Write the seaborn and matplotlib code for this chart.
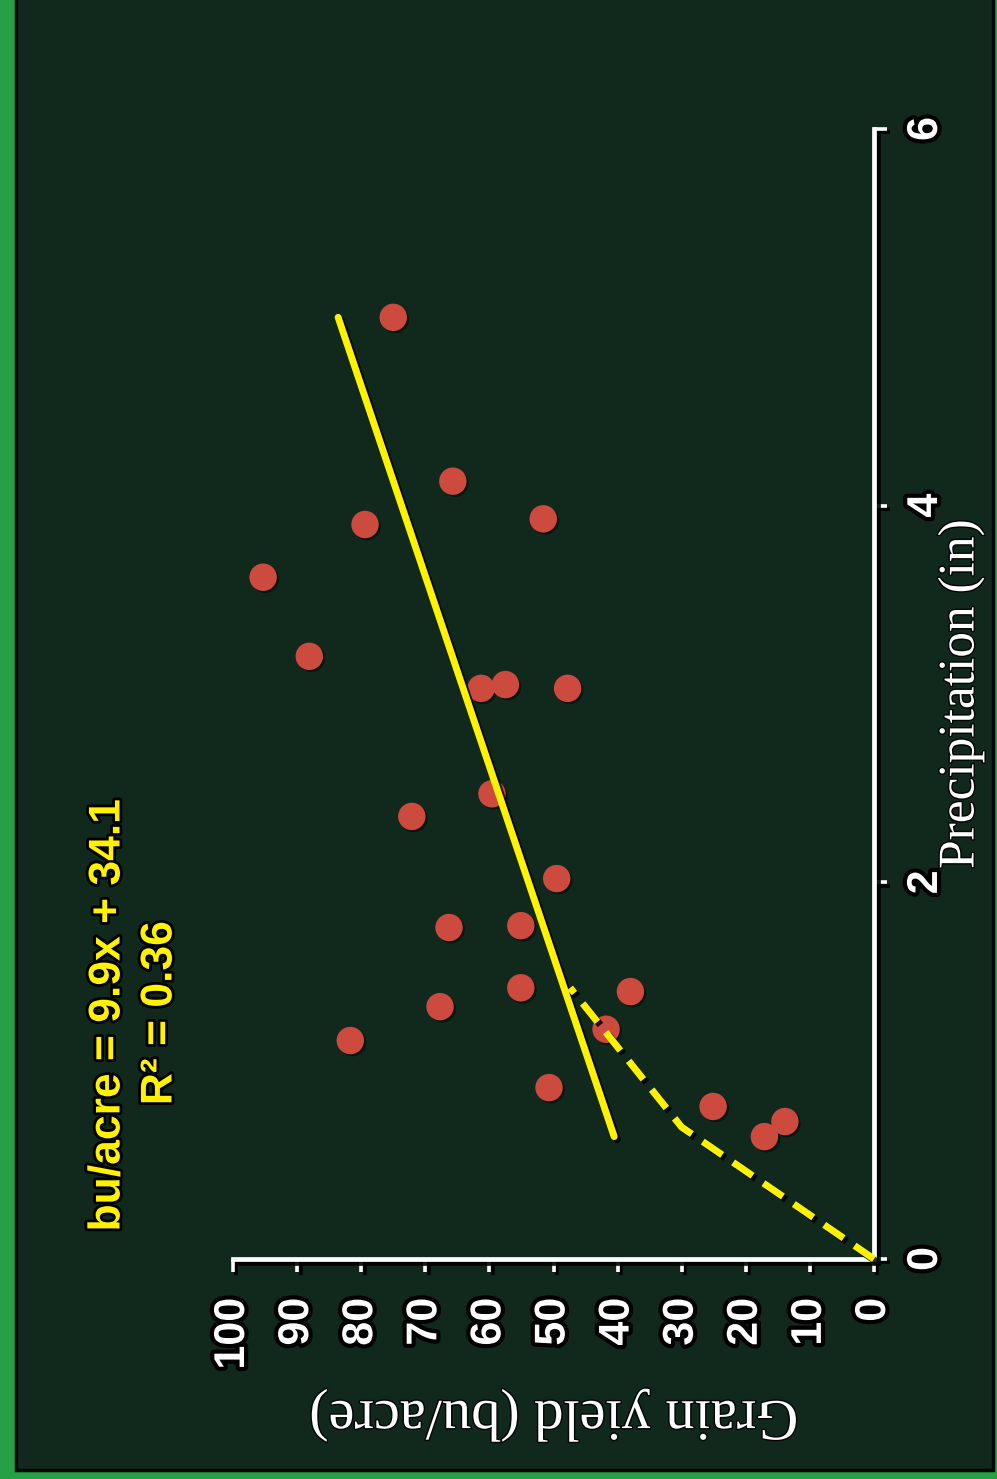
import matplotlib
matplotlib.use("Agg")
import matplotlib.pyplot as plt
import seaborn as sns
import pandas as pd
from matplotlib import patheffects as pe
from matplotlib.patches import Rectangle

# Observed site-years: growing-season precipitation (in) and grain yield (bu/acre)
precip = [5.00, 4.13, 3.90, 3.93, 3.62, 3.20, 3.03, 3.05, 3.03, 2.35, 2.47, 2.02,
          1.76, 1.77, 1.34, 1.44, 1.42, 1.16, 1.22, 0.91, 0.81, 0.73, 0.65]
grain_yield = [75.0, 65.7, 79.4, 51.6, 95.3, 88.1, 61.3, 57.5, 47.8, 72.1, 59.6, 49.5,
               66.3, 55.1, 67.7, 55.1, 38.0, 81.7, 41.8, 50.7, 25.1, 13.9, 17.1]

# Linear fit: bu/acre = 9.9x + 34.1
slope, intercept = 9.9, 34.1
fit_range = [0.65, 5.0]

# Upper boundary (dashed)
bound_precip = [0.0, 0.70, 1.44]
bound_yield = [0.0, 30.0, 47.4]

yield_ticks = list(range(0, 101, 10))
precip_ticks = [0, 2, 4, 6]

W, H = 997, 1479
sns.set_theme(style="white")
plt.rcParams["font.family"] = ["Liberation Sans", "DejaVu Sans"]

fig = plt.figure(figsize=(W / 100, H / 100), dpi=100)
fig.patch.set_facecolor("#25a045")
panel = Rectangle((16 / W, 9 / H), (993 - 16) / W, 1.0,
                  transform=fig.transFigure, facecolor="#11281d",
                  edgecolor="#07070d", linewidth=2.5, zorder=-10)
fig.patches.append(panel)

ax = fig.add_axes([233 / W, 1 - 1259 / H, (874 - 233) / W, (1259 - 129) / H])
ax.set_facecolor("none")
ax.set_zorder(5)

pts = pd.DataFrame({"yield": grain_yield, "precip": precip})
sns.scatterplot(data=pts, x="yield", y="precip", s=390, color="#cd4a3f",
                edgecolor="none", linewidth=0, ax=ax, zorder=3, legend=False)
ax.collections[-1].set_path_effects([
    pe.SimplePatchShadow(offset=(1.5, -1.5), shadow_rgbFace="black", alpha=0.45),
    pe.Normal()])

line_shadow = [pe.SimpleLineShadow(offset=(2.2, -2.2), shadow_color="black", alpha=0.85),
               pe.Normal()]

fit_df = pd.DataFrame({"precip": fit_range,
                       "yield": [slope * p + intercept for p in fit_range]})
sns.lineplot(data=fit_df, x="yield", y="precip", sort=False, estimator=None,
             color="#fff200", linewidth=5, ax=ax, zorder=4)
fit_line = ax.lines[-1]
fit_line.set_solid_capstyle("round")
fit_line.set_path_effects(line_shadow)

bound_df = pd.DataFrame({"precip": bound_precip, "yield": bound_yield})
sns.lineplot(data=bound_df, x="yield", y="precip", sort=False, estimator=None,
             color="#fff200", linewidth=5, ax=ax, zorder=4)
bound_line = ax.lines[-1]
bound_line.set_linestyle((0, (3.4, 1.9)))
bound_line.set_dash_capstyle("butt")
bound_line.set_clip_on(False)
bound_line.set_path_effects(line_shadow)

ax.set_xlim(100, 0)
ax.set_ylim(0, 6)
ax.set_xticks(yield_ticks)
ax.set_xticklabels([str(t) for t in yield_ticks])
ax.set_yticks(precip_ticks)
ax.set_yticklabels([str(t) for t in precip_ticks])
ax.yaxis.tick_right()
ax.yaxis.set_label_position("right")

for side in ["top", "left"]:
    ax.spines[side].set_visible(False)
for side in ["bottom", "right"]:
    sp = ax.spines[side]
    sp.set_visible(True)
    sp.set_color("white")
    sp.set_linewidth(3.4)
    sp.set_capstyle("projecting")
    sp.set_path_effects([pe.SimpleLineShadow(offset=(3, -3), shadow_color="black", alpha=0.9),
                         pe.Normal()])

ax.tick_params(axis="x", bottom=True, top=False, direction="out", length=9, width=2.6,
               color="white", pad=19, labelsize=31, labelcolor="white", labelrotation=90)
ax.tick_params(axis="y", right=True, left=False, direction="out", length=9, width=2.6,
               color="white", pad=14, labelsize=31, labelcolor="white", labelrotation=90)

outline = [pe.withStroke(linewidth=6, foreground="black")]
for lbl in ax.get_xticklabels() + ax.get_yticklabels():
    lbl.set_fontweight("bold")
    lbl.set_path_effects(outline)
for lbl in ax.get_yticklabels():
    lbl.set_verticalalignment("center")
for tk in ax.xaxis.get_major_ticks() + ax.yaxis.get_major_ticks():
    for ln in (tk.tick1line, tk.tick2line):
        ln.set_path_effects([pe.SimpleLineShadow(offset=(2.5, -2.5), shadow_color="black",
                                                 alpha=0.9), pe.Normal()])

serif = ["Liberation Serif", "DejaVu Serif"]
ax.set_xlabel("Grain yield (bu/acre)", fontsize=42, color="white", family=serif,
              rotation=180, labelpad=14)
ax.set_ylabel("Precipitation (in)", fontsize=37, color="white", family=serif,
              rotation=90)
ax.yaxis.set_label_coords((938 - 233) / (874 - 233), 0.5)
ax.xaxis.label.set_path_effects([pe.withStroke(linewidth=2, foreground="#050505")])
ax.yaxis.label.set_path_effects([pe.withStroke(linewidth=2, foreground="#050505")])

eq_style = dict(rotation=90, ha="center", va="center", fontsize=32, fontweight="bold",
                color="#fff200", path_effects=[pe.withStroke(linewidth=4, foreground="black")])
fig.text(108 / W, 1 - 1015 / H, f"bu/acre = {slope}x + {intercept}", **eq_style)
fig.text(160 / W, 1 - 1013 / H, "R² = 0.36", **eq_style)

fig.savefig("out.png", dpi=100, facecolor=fig.get_facecolor())
